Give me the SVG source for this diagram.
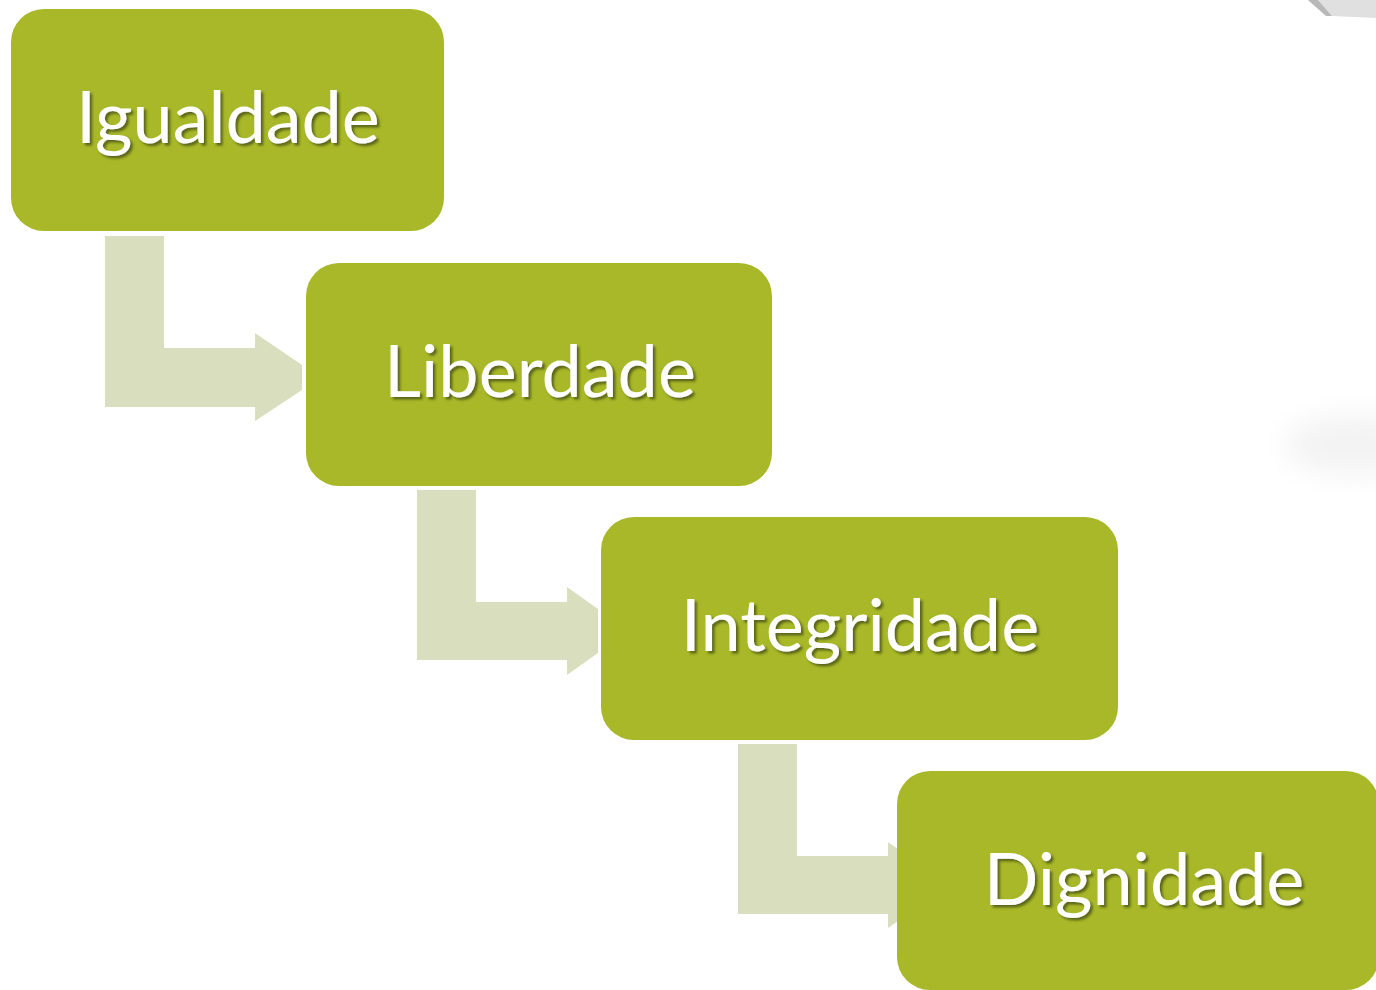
<svg xmlns="http://www.w3.org/2000/svg" width="1376" height="990" viewBox="0 0 1376 990">
<defs>
<style>
.box{fill:#A8B828;}
.arr{fill:#D9DFBE;}
.lbl{font-family:Lato,"Open Sans","Noto Sans",sans-serif;font-size:72px;fill:#FFFFFF;text-anchor:middle;filter:url(#sh);}
</style>
<filter id="sh" x="-10%" y="-30%" width="130%" height="160%">
<feDropShadow dx="2.5" dy="2.5" stdDeviation="1.2" flood-color="#3A4208" flood-opacity="0.7"/>
</filter>
<filter id="blur" x="-50%" y="-50%" width="200%" height="200%"><feGaussianBlur stdDeviation="14"/></filter>
</defs>
<rect width="1376" height="990" fill="#FFFFFF"/>
<polygon points="1318,0 1376,0 1376,18 1332,16" fill="#E0E0E0"/>
<polygon points="1308,0 1318,0 1332,16 1326,16" fill="#B8B8B8"/>
<ellipse cx="1355" cy="445" rx="70" ry="30" fill="#F3F3F3" filter="url(#blur)"/>
<g id="connectors">
<polygon class="arr" points="105,236 164,236 164,348 255,348 255,333 302,365 302,390 255,421 255,407 105,407"/>
<polygon class="arr" points="417,490 476,490 476,602 567,602 567,587 598,609 598,653 567,675 567,660 417,660"/>
<polygon class="arr" points="738,744 797,744 797,856 888,856 888,842 898,849 898,921 888,928 888,914 738,914"/>
</g>
<g id="node-igualdade">
<rect class="box" x="11" y="9" width="433" height="222" rx="33"/>
<text class="lbl" x="228" y="143">Igualdade</text>
</g>
<g id="node-liberdade">
<rect class="box" x="306" y="263" width="466" height="223" rx="33"/>
<text class="lbl" x="540" y="397">Liberdade</text>
</g>
<g id="node-integridade">
<rect class="box" x="601" y="517" width="517" height="223" rx="33"/>
<text class="lbl" x="860" y="651">Integridade</text>
</g>
<g id="node-dignidade">
<rect class="box" x="897" y="771" width="482" height="219" rx="33"/>
<text class="lbl" x="1144" y="905">Dignidade</text>
</g>
</svg>
